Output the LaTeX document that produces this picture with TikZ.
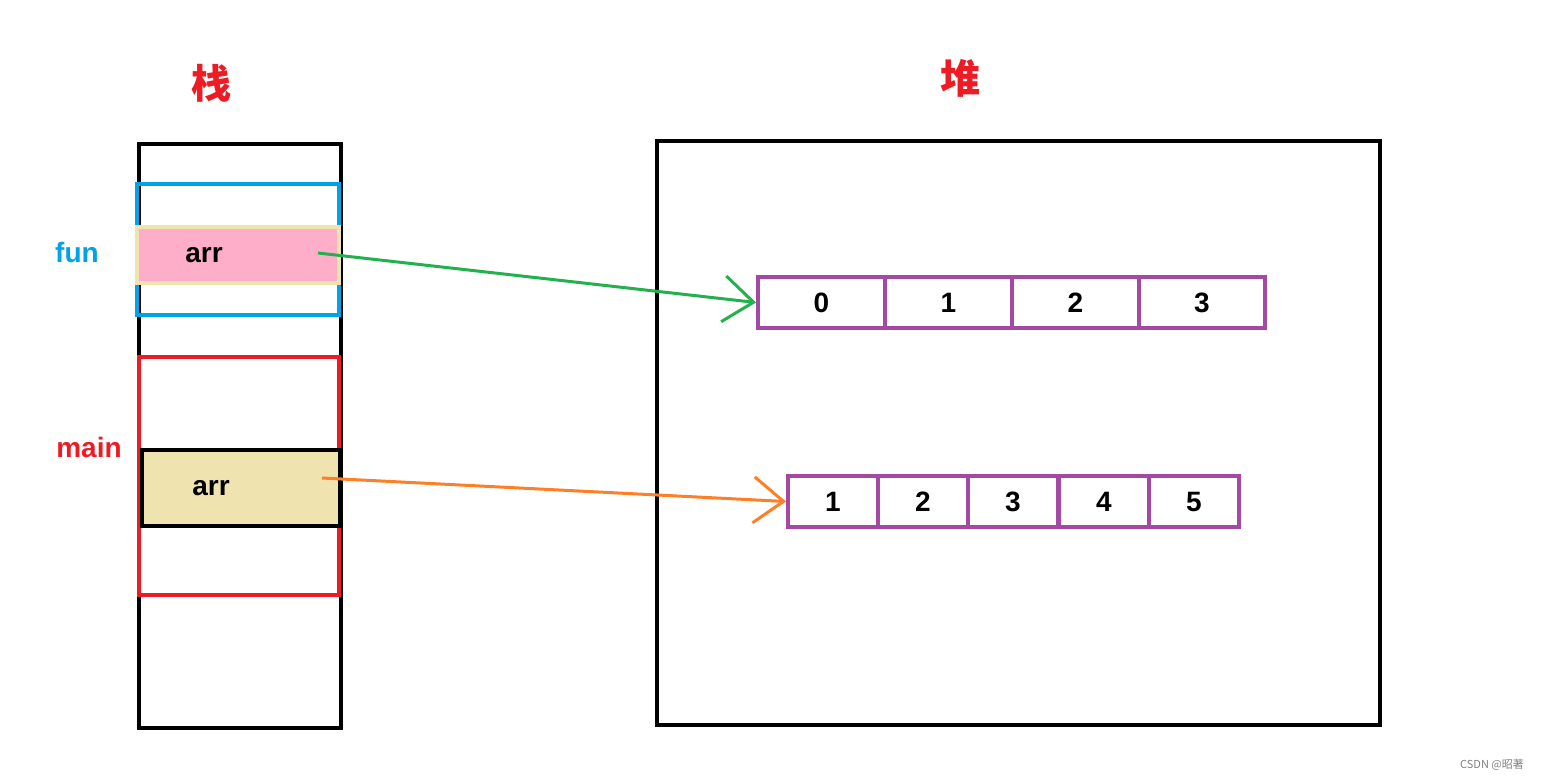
\documentclass[tikz,border=0pt]{standalone}
\usepackage{fontspec}
\setmainfont{Liberation Sans}
\newfontfamily\cjk{Noto Sans CJK SC}
\usetikzlibrary{arrows.meta}
\definecolor{myred}{HTML}{ED1C24}
\definecolor{myblue}{HTML}{00A2E8}
\definecolor{mypurple}{HTML}{A349A4}
\definecolor{mypink}{HTML}{FFAEC9}
\definecolor{mybeige}{HTML}{EFE4B0}
\definecolor{mygreen}{HTML}{22B14C}
\definecolor{myorange}{HTML}{FF7F27}
\tikzset{
 lbl/.style={font=\fontsize{28}{30}\selectfont\bfseries},
 cell/.style={draw=mypurple,line width=4pt,minimum height=51pt,inner sep=0pt,font=\fontsize{28}{30}\selectfont\bfseries},
 tip/.style={-{Straight Barb[length=30pt,width=46pt,line width=3pt]},line width=3pt}
}
\begin{document}
\begin{tikzpicture}[x=1pt,y=-1pt]
\useasboundingbox (0,0) rectangle (1541,780);
\node[text=myred,font=\cjk\fontsize{40}{42}\selectfont\bfseries] (t1) at (211,83) {栈};
\node[text=myred,font=\cjk\fontsize{40}{42}\selectfont\bfseries] (t2) at (960,78) {堆};
\draw[line width=4pt] (139,144) rectangle (341,728);
\draw[myblue,line width=4pt] (137,184) rectangle (339,315);
\draw[mybeige,fill=mypink,line width=4pt] (137,227) rectangle (339,283);
\node[lbl] (a1) at (204,255) {arr};
\node[lbl,text=myblue] (fun) at (77,252) {fun};
\draw[myred,line width=4pt] (139,357) rectangle (339,595);
\node[lbl,text=myred] (main) at (89,447) {main};
\draw[fill=mybeige,line width=4pt] (142,450) rectangle (340,526);
\node[lbl] (a2) at (211,488) {arr};
\draw[line width=4pt] (657,141) rectangle (1380,725);
\foreach \x/\w/\t [count=\i] in {756/127/0,883/127/1,1010/127/2,1137/126/3}
  \node[cell,anchor=north west,minimum width=\w pt] (p\i) at (\x,275) {\t};
\foreach \x/\t [count=\i] in {786/1,876/2,966/3,1057/4,1147/5}
  \node[cell,anchor=north west,minimum width=90pt] (q\i) at (\x,474) {\t};
\coordinate (g0) at (318,253);
\coordinate (o0) at (322,478);
\draw[tip,mygreen] (g0) -- (p1.west);
\draw[tip,myorange] (o0) -- (q1.west);
\node[text=gray,font=\cjk\fontsize{11}{12}\selectfont] (wm) at (1492,765) {CSDN @昭著};
\end{tikzpicture}
\end{document}
